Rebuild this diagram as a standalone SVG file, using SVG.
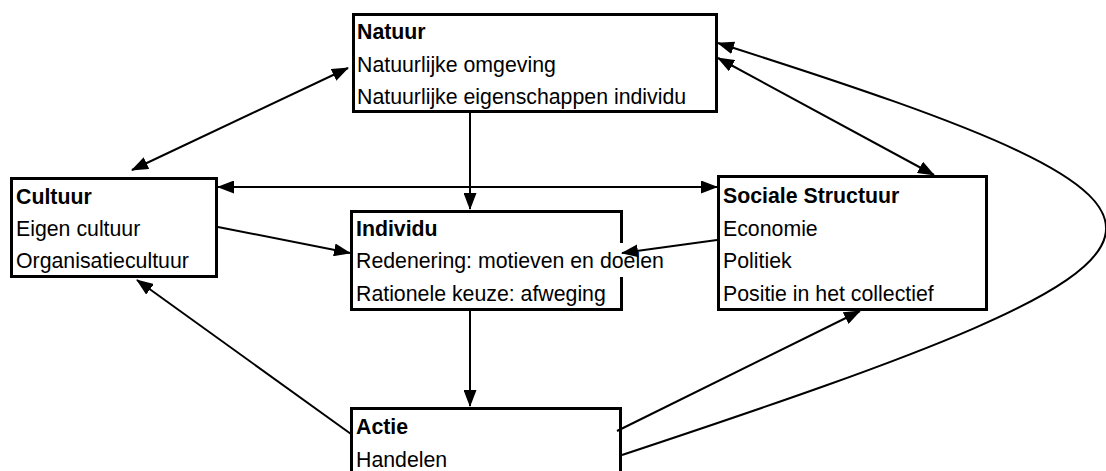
<svg xmlns="http://www.w3.org/2000/svg" width="1106" height="471" viewBox="0 0 1106 471">
<style>
.box{fill:#fff;stroke:#000;stroke-width:3}
.t{font-family:"Liberation Sans",Arial,sans-serif;font-size:21.3px;fill:#000}
.b{font-weight:bold}
.c{fill:none;stroke:#000;stroke-width:2}
</style>
<defs>
<marker id="ah" markerUnits="userSpaceOnUse" markerWidth="17" markerHeight="13" viewBox="0 0 17 13" refX="16" refY="6.5" orient="auto-start-reverse">
<path d="M0,0 L17,6.5 L0,13 z" fill="#000"/>
</marker>
</defs>
<rect width="1106" height="471" fill="#fff"/>
<g id="natuur">
<rect class="box" x="353.5" y="14.5" width="363" height="97"/>
<text class="t b" x="357" y="39">Natuur</text>
<text class="t" x="357" y="72">Natuurlijke omgeving</text>
<text class="t" x="357" y="104">Natuurlijke eigenschappen individu</text>
</g>
<g id="cultuur">
<rect class="box" x="11.5" y="178.5" width="205" height="98"/>
<text class="t b" x="16" y="204">Cultuur</text>
<text class="t" x="16" y="236">Eigen cultuur</text>
<text class="t" x="16" y="268">Organisatiecultuur</text>
</g>
<g id="individu">
<rect class="box" x="351.5" y="211.5" width="270" height="98"/>
<rect x="618" y="243" width="8" height="34" fill="#fff"/>
<text class="t b" x="356" y="236">Individu</text>
<text class="t" x="356" y="268">Redenering: motieven en doelen</text>
<text class="t" x="356" y="301">Rationele keuze: afweging</text>
</g>
<g id="sociale-structuur">
<rect class="box" x="718.5" y="176.5" width="268" height="133"/>
<text class="t b" x="723" y="203">Sociale Structuur</text>
<text class="t" x="723" y="236">Economie</text>
<text class="t" x="723" y="268">Politiek</text>
<text class="t" x="723" y="301">Positie in het collectief</text>
</g>
<g id="actie">
<rect class="box" x="351.5" y="408.5" width="269" height="80"/>
<text class="t b" x="356" y="434">Actie</text>
<text class="t" x="356" y="467">Handelen</text>
</g>
<g id="connectors">
<path class="c" d="M348,68 L132,170" marker-start="url(#ah)" marker-end="url(#ah)"/>
<path class="c" d="M218,187 L717,187" marker-start="url(#ah)" marker-end="url(#ah)"/>
<path class="c" d="M718,58 L934,175" marker-start="url(#ah)" marker-end="url(#ah)"/>
<path class="c" d="M470,113 L470,209" marker-end="url(#ah)"/>
<path class="c" d="M218,227 L350,253" marker-end="url(#ah)"/>
<path class="c" d="M717,240 L622,253" marker-end="url(#ah)"/>
<path class="c" d="M470,311 L470,406" marker-end="url(#ah)"/>
<path class="c" d="M351,434 L137,280" marker-end="url(#ah)"/>
<path class="c" d="M617,431 L860,311" marker-end="url(#ah)"/>
<path class="c" d="M622,455 C1240,250 1260,215 718,43" marker-end="url(#ah)"/>
</g>
</svg>
